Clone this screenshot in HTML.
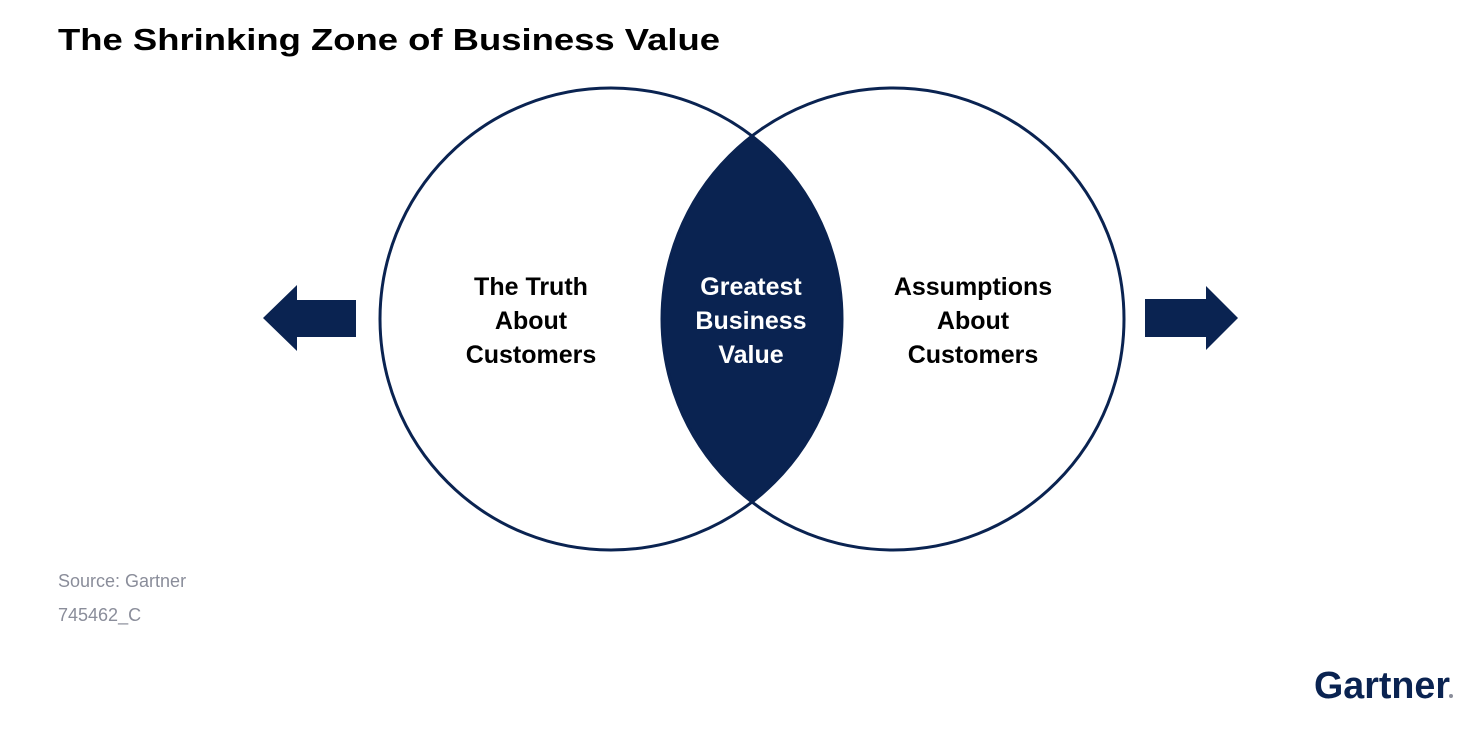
<!DOCTYPE html>
<html><head><meta charset="utf-8"><style>
body{margin:0;width:1484px;height:724px;background:#fff;overflow:hidden;font-family:"Liberation Sans",sans-serif}
</style></head><body>
<svg width="1484" height="724" viewBox="0 0 1484 724" xmlns="http://www.w3.org/2000/svg">
<text x="58" y="50" font-family="Liberation Sans, sans-serif" font-weight="bold" font-size="31" fill="#000" textLength="662" lengthAdjust="spacingAndGlyphs">The Shrinking Zone of Business Value</text>
<defs><clipPath id="c"><circle cx="611" cy="319" r="231"/></clipPath></defs>
<circle cx="893" cy="319" r="231" fill="#0a2351" clip-path="url(#c)"/>
<circle cx="611" cy="319" r="231" fill="none" stroke="#0a2351" stroke-width="3"/>
<circle cx="893" cy="319" r="231" fill="none" stroke="#0a2351" stroke-width="3"/>
<g font-family="Liberation Sans, sans-serif" font-weight="bold" font-size="25" text-anchor="middle">
<text x="531" y="295" fill="#000">The Truth</text>
<text x="531" y="329" fill="#000">About</text>
<text x="531" y="363" fill="#000">Customers</text>
<text x="751" y="295" fill="#fff">Greatest</text>
<text x="751" y="329" fill="#fff">Business</text>
<text x="751" y="363" fill="#fff">Value</text>
<text x="973" y="295" fill="#000">Assumptions</text>
<text x="973" y="329" fill="#000">About</text>
<text x="973" y="363" fill="#000">Customers</text>
</g>
<polygon points="263,318 297,285 297,300 356,300 356,337 297,337 297,351" fill="#0a2351"/>
<polygon points="1238,318 1206,286 1206,299 1145,299 1145,337 1206,337 1206,350" fill="#0a2351"/>
<text x="58" y="587" font-family="Liberation Sans, sans-serif" font-size="18" fill="#8a8d9a">Source: Gartner</text>
<text x="58" y="621" font-family="Liberation Sans, sans-serif" font-size="18" fill="#8a8d9a">745462_C</text>
<text x="1314" y="698" font-family="Liberation Sans, sans-serif" font-weight="bold" font-size="38" fill="#0a2351" textLength="136" lengthAdjust="spacingAndGlyphs">Gartner</text>
<circle cx="1451" cy="696" r="2" fill="#8a8d9a"/>
</svg>
</body></html>
